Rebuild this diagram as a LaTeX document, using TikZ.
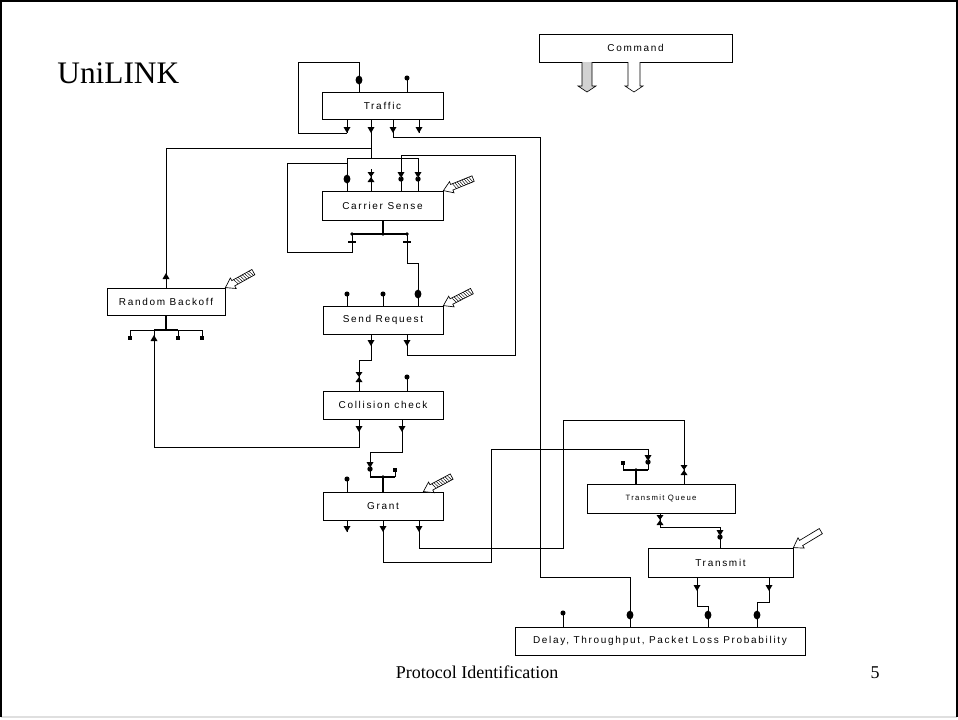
\documentclass[tikz,border=0pt]{standalone}
\usepackage{fontspec}
\setmainfont{Liberation Serif}
\newfontfamily\boxfont[LetterSpace=17]{Liberation Sans}
\usetikzlibrary{calc}
% markers (argument: a coordinate)
\newcommand\mTriD[1]{\fill[shift={(#1)}] (-3.5,-6) -- (3.5,-6) -- (0,0) -- cycle;}
\newcommand\mTriU[1]{\fill[shift={(#1)}] (-3.5,6) -- (3.5,6) -- (0,0) -- cycle;}
\newcommand\mDot[1]{\fill (#1) circle[radius=1.9pt];}
\newcommand\mSmall[1]{\fill (#1) circle[radius=1.4pt];}
\newcommand\mBig[1]{\fill (#1) ellipse[x radius=2.6pt,y radius=3.3pt];}
\newcommand\mSq[1]{\fill[shift={(#1)}] (-2.2,-2.2) rectangle (2.2,2.2);}
\newcommand\mHour[1]{\fill[shift={(#1)}] (-3.5,-5) -- (3.5,-5) -- (0,0) -- cycle (-3.5,5) -- (3.5,5) -- (0,0) -- cycle;}
\newcommand\mArrDot[1]{\fill[shift={(#1)}] (-3.5,-5) -- (3.5,-5) -- (0,1) -- cycle (0,2) circle[radius=2pt];}
\newcommand\mTick[1]{\draw[line width=1.6pt,shift={(#1)}] (-4,0) -- (4,0);}
% pen-like hollow arrows: tip coordinate, angle, hatched (1) or plain (0)
\newcommand\pen[3]{\begin{scope}[shift={(#1)},rotate=#2]
  \draw[fill=white,line width=0.5pt] (0,0) -- (9,-6) -- (9,-3) -- (32,-3) -- (32,3) -- (9,3) -- (9,6) -- cycle;
  \ifnum#3=1 \foreach \k in {11,13.5,...,29} {\draw[line width=0.35pt] (\k,-3) -- (\k+2,3);}\fi
\end{scope}}
\begin{document}
\begin{tikzpicture}[x=0.75pt,y=-0.75pt,line width=0.6pt,
  bx/.style n args={2}{draw,line width=0.6pt,fill=white,inner sep=0pt,
    minimum width={#1*0.75pt},minimum height={#2*0.75pt},
    font={\boxfont\fontsize{7.5}{9}\selectfont}},
  thk/.style={line width=1.5pt}]
\useasboundingbox (0,0) rectangle (958,719);
% slide frame
\draw[gray!25,line width=1pt] (1,717) -- (957,717);
\draw[line width=1.5pt] (1,717) -- (1,1) -- (957,1) -- (957,717);

% texts
\node[anchor=base west,inner sep=0pt,font=\fontsize{23.5}{28}\selectfont] (title) at (57,83) {UniLINK};
\node[anchor=base,inner sep=0pt,font=\fontsize{13.5}{16}\selectfont] (footer) at (477,678) {Protocol Identification};
\node[anchor=base,inner sep=0pt,font=\fontsize{13.5}{16}\selectfont] (pageno) at (875,678) {5};

% boxes
\node[bx={193}{28}] (cmd) at (635.5,48) {Command};
\node[bx={121}{27}] (traffic) at (382.5,105.5) {Traffic};
\node[bx={121}{29}] (carrier) at (382.5,205.5) {Carrier Sense};
\node[bx={118}{27}] (backoff) at (166,301.5) {Random Backoff};
\node[bx={120}{28}] (sendreq) at (383,320) {Send Request};
\node[bx={120}{28}] (collision) at (383,405) {Collision check};
\node[bx={120}{28}] (grant) at (383,506) {Grant};
\node[bx={148}{29},font={\boxfont\fontsize{5.8}{7}\selectfont}] (tq) at (661,498.5) {Transmit Queue};
\node[bx={145}{29}] (transmit) at (720.5,562.5) {Transmit};
\node[bx={290}{28}] (delay) at (660,641) {Delay, Throughput, Packet Loss Probability};

% ports
\coordinate (ca1) at (587,62);
\coordinate (ca2) at (634,62);
\coordinate (tr-i1) at (359,80);
\coordinate (tr-i2) at (407,78);
\coordinate (tr-o1) at (347,133);
\coordinate (tr-o2) at (371,133);
\coordinate (tr-o3) at (393,133);
\coordinate (tr-o4) at (419,133);
\coordinate (cs-i1) at (347,179);
\coordinate (cs-i2) at (371,177);
\coordinate (cs-i3) at (401,177);
\coordinate (cs-i4) at (418,177);
\coordinate (cs-b) at (383,234);
\coordinate (cs-o1) at (352,242);
\coordinate (cs-o2) at (407,242);
\coordinate (bo-i) at (166,273);
\coordinate (bo-b) at (166,330);
\coordinate (bo-p1) at (130,338);
\coordinate (bo-p2) at (154,335);
\coordinate (bo-p3) at (178,338);
\coordinate (bo-p4) at (202,338);
\coordinate (sr-i1) at (347,294);
\coordinate (sr-i2) at (383,294);
\coordinate (sr-i3) at (418,294);
\coordinate (sr-o1) at (371,346);
\coordinate (sr-o2) at (407,346);
\coordinate (cl-i1) at (359,377);
\coordinate (cl-i2) at (407,377);
\coordinate (cl-o1) at (359,432);
\coordinate (cl-o2) at (402,432);
\coordinate (gr-i1) at (347,479);
\coordinate (gr-b) at (383,477);
\coordinate (gr-a) at (370,467);
\coordinate (gr-s) at (395,470);
\coordinate (gr-o1) at (347,532);
\coordinate (gr-o2) at (383,532);
\coordinate (gr-o3) at (419,532);
\coordinate (tq-b) at (636,470);
\coordinate (tq-s) at (623,463);
\coordinate (tq-a) at (648,460);
\coordinate (tq-i2) at (684,470);
\coordinate (tq-o) at (660,520);
\coordinate (tx-i) at (720,535);
\coordinate (tx-o1) at (697,591);
\coordinate (tx-o2) at (769,591);
\coordinate (dl-i1) at (563,613);
\coordinate (dl-i2) at (630,615);
\coordinate (dl-i3) at (708,615);
\coordinate (dl-i4) at (757,615);

% command block arrows
\draw[fill=gray!35,line width=0.5pt,shift={(ca1)}] (-5,0) -- (-5,24) -- (-9,24) -- (0,30) -- (9,24) -- (5,24) -- (5,0);
\draw[fill=white,line width=0.5pt,shift={(ca2)}] (-6,0) -- (-6,24) -- (-9,24) -- (0,30) -- (9,24) -- (6,24) -- (6,0);

% stems into boxes (top)
\foreach \p/\b in {tr-i1/traffic,tr-i2/traffic,cs-i1/carrier,cs-i3/carrier,cs-i4/carrier,
  sr-i1/sendreq,sr-i2/sendreq,sr-i3/sendreq,cl-i1/collision,cl-i2/collision,gr-i1/grant,
  tq-i2/tq,tx-i/transmit,dl-i1/delay,dl-i2/delay,dl-i3/delay,dl-i4/delay,bo-i/backoff}
  {\draw (\p) -- (\p |- \b.north);}
\draw (371,169) -- (cs-i2 |- carrier.north);
% stems out of boxes (bottom)
\foreach \p/\b in {tr-o1/traffic,tr-o2/traffic,tr-o3/traffic,tr-o4/traffic,
  sr-o1/sendreq,sr-o2/sendreq,cl-o1/collision,cl-o2/collision,
  gr-o1/grant,gr-o2/grant,gr-o3/grant,tx-o1/transmit,tx-o2/transmit}
  {\draw (\p |- \b.south) -- (\p);}
\draw (tq-o |- tq.south) -- (660,527);

% distribution bars
\draw[thk] (cs-b |- carrier.south) -- (cs-b);
\draw[line width=1.2pt] (cs-b -| cs-o1) -- (cs-b -| cs-o2);
\draw (cs-b -| cs-o1) -- (cs-o1);
\draw (cs-b -| cs-o2) -- (cs-o2);
\draw[thk] (bo-b |- backoff.south) -- (bo-b);
\draw (bo-b -| bo-p1) -- (bo-b -| bo-p4);
\draw[thk] (bo-b -| bo-p2) -- (bo-b -| bo-p3);
\foreach \p in {bo-p1,bo-p2,bo-p3,bo-p4} {\draw (bo-b -| \p) -- (\p);}
\draw[thk] (gr-b |- grant.north) -- (gr-b);
\draw[line width=1.2pt] (gr-b -| gr-a) -- (gr-b -| gr-s);
\draw (gr-b -| gr-a) -- (gr-a);
\draw (gr-b -| gr-s) -- (gr-s);
\draw[thk] (tq-b |- tq.north) -- (tq-b);
\draw[line width=1.2pt] (tq-b -| tq-s) -- (tq-b -| tq-a);
\draw (tq-b -| tq-s) -- (tq-s);
\draw (tq-b -| tq-a) -- (tq-a);

% connectors
\draw (tr-i1) |- (298,62) |- (tr-o1);
\draw (tr-o2) -- (371,158);
\draw (371,148) -| (bo-i);
\draw (cs-i1) -- (347,158) -| (cs-i4);
\draw (cs-o1) |- (287,252) |- (347,163);
\draw (tr-o3) |- (540,137) -- (540,577) -| (dl-i2);
\draw (sr-o2) |- (515,355) |- (401,155) -- (cs-i3);
\draw (cs-o2) |- (418,263) -- (sr-i3);
\draw (sr-o1) |- (359,360) -- (cl-i1);
\draw (cl-o1) |- (154,447) -- (bo-p2);
\draw (cl-o2) |- (370,452) -- (gr-a);
\draw (gr-o2) |- (491,562) |- (648,449) -- (tq-a);
\draw (gr-o3) |- (563,548) |- (684,420) -- (tq-i2);
\draw (660,527) -| (tx-i);
\draw (tx-o1) |- (708,606) -- (dl-i3);
\draw (tx-o2) |- (757,602) -- (dl-i4);

% markers
\mBig{tr-i1} \mDot{tr-i2}
\foreach \p in {tr-o1,tr-o2,tr-o3,tr-o4,sr-o1,sr-o2,cl-o1,cl-o2,gr-o1,gr-o2,gr-o3,tx-o1,tx-o2} {\mTriD{\p}}
\mBig{cs-i1} \mHour{cs-i2} \mArrDot{cs-i3} \mArrDot{cs-i4}
\mSmall{cs-b} \mSmall{cs-b -| cs-o1} \mSmall{cs-b -| cs-o2}
\mTick{cs-o1} \mTick{cs-o2}
\mTriU{bo-i}
\mSq{bo-p1} \mSq{bo-p3} \mSq{bo-p4} \mTriU{bo-p2}
\mDot{sr-i1} \mDot{sr-i2} \mBig{sr-i3}
\mHour{cl-i1} \mDot{cl-i2}
\mDot{gr-i1} \mArrDot{gr-a} \mSq{gr-s} \mSmall{gr-b}
\mSq{tq-s} \mArrDot{tq-a} \mSmall{tq-b} \mHour{tq-i2} \mHour{tq-o}
\mArrDot{tx-i}
\mDot{dl-i1} \mBig{dl-i2} \mBig{dl-i3} \mBig{dl-i4}

% pen arrows at box corners
\pen{carrier.north east}{22}{1}
\pen{backoff.north east}{29}{1}
\pen{sendreq.north east}{27}{1}
\pen{[xshift=-15pt]grant.north east}{28}{1}
\pen{transmit.north east}{31}{0}
\end{tikzpicture}
\end{document}
